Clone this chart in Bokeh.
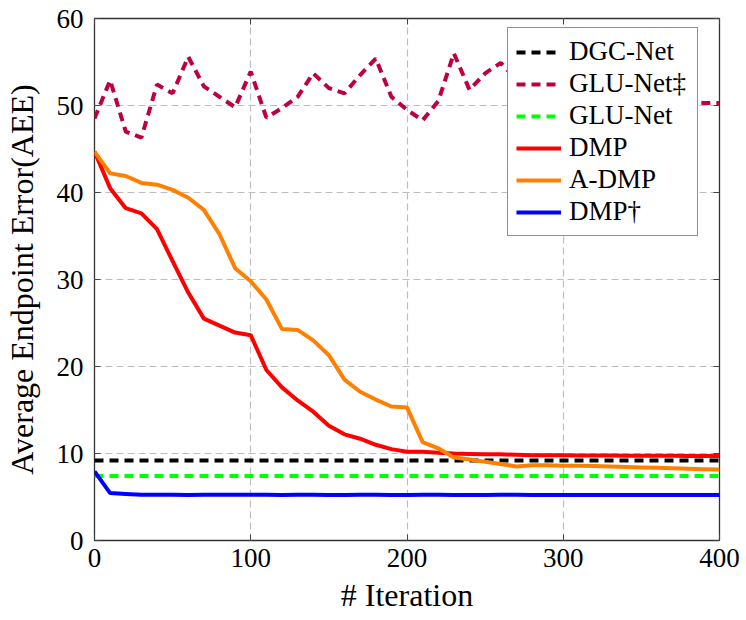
from bokeh.plotting import figure
from bokeh.models import Range1d, LinearAxis, FixedTicker, Legend, LegendItem
from bokeh.embed import file_html
from bokeh.resources import INLINE

iterations = list(range(0, 401, 10))

glu_net_ddagger = [48.5, 52.9, 47.0, 46.3, 52.4, 51.4, 55.6, 52.2, 51.0, 49.8,
                   53.9, 48.6, 49.7, 51.0, 53.7, 52.0, 51.4, 53.5, 55.4, 51.0,
                   49.5, 48.3, 50.5, 56.0, 51.8, 53.7, 54.9, 53.0, 51.5, 52.8,
                   50.9, 53.6, 51.2, 49.8, 52.4, 50.6, 51.9, 50.1, 50.4, 50.3,
                   50.3]

dmp = [44.7, 40.5, 38.2, 37.6, 35.8, 32.1, 28.5, 25.5, 24.7, 23.9,
       23.6, 19.6, 17.6, 16.1, 14.8, 13.2, 12.2, 11.7, 11.0, 10.5,
       10.2, 10.2, 10.1, 10.0, 9.95, 9.9, 9.9, 9.85, 9.8, 9.8,
       9.8, 9.78, 9.77, 9.76, 9.75, 9.75, 9.74, 9.73, 9.72, 9.72,
       9.7]

a_dmp = [44.7, 42.2, 41.9, 41.1, 40.9, 40.3, 39.4, 38.0, 35.2, 31.3,
         29.8, 27.7, 24.3, 24.2, 23.0, 21.3, 18.5, 17.1, 16.2, 15.4,
         15.3, 11.3, 10.6, 9.55, 9.3, 9.05, 8.8, 8.5, 8.65, 8.65,
         8.6, 8.58, 8.55, 8.5, 8.45, 8.4, 8.35, 8.3, 8.25, 8.2,
         8.15]

dmp_dagger = [7.95, 5.45, 5.35, 5.25, 5.26, 5.25, 5.24, 5.25, 5.25, 5.26,
              5.25, 5.25, 5.24, 5.25, 5.25, 5.24, 5.24, 5.25, 5.25, 5.24,
              5.24, 5.25, 5.25, 5.24, 5.24, 5.24, 5.25, 5.25, 5.24, 5.24,
              5.24, 5.23, 5.23, 5.24, 5.24, 5.23, 5.23, 5.23, 5.23, 5.22,
              5.22]

baseline_x = [0, 400]
dgc_net = [9.2, 9.2]
glu_net = [7.4, 7.4]

x_ticks = [0, 100, 200, 300, 400]
y_ticks = [0, 10, 20, 30, 40, 50, 60]

FONT = "Liberation Serif"

p = figure(width=746, height=620, output_backend="svg", toolbar_location=None,
           x_range=Range1d(0, 400), y_range=Range1d(0, 60),
           min_border_left=94, min_border_right=27, min_border_top=18,
           min_border_bottom=80)

p.background_fill_color = "white"
p.border_fill_color = "white"
p.outline_line_color = "#333333"
p.outline_line_width = 1.3

for ax in (p.xaxis[0], p.yaxis[0]):
    ax.major_label_text_font = FONT
    ax.major_label_text_font_size = "27px"
    ax.major_label_text_color = "black"
    ax.axis_label_text_font = FONT
    ax.axis_label_text_font_size = "32px"
    ax.axis_label_text_font_style = "normal"
    ax.axis_label_text_color = "black"
    ax.axis_line_color = None
    ax.major_tick_in = 6
    ax.major_tick_out = 0
    ax.major_tick_line_color = "#444444"
    ax.minor_tick_line_color = None

p.xaxis[0].ticker = FixedTicker(ticks=x_ticks)
p.yaxis[0].ticker = FixedTicker(ticks=y_ticks)
p.xaxis[0].axis_label = "# Iteration"
p.yaxis[0].axis_label = "Average Endpoint Error(AEE)"
p.xaxis[0].major_label_standoff = 8
p.yaxis[0].major_label_standoff = 11
p.xaxis[0].axis_label_standoff = 7
p.yaxis[0].axis_label_standoff = 14

for loc, tk in (("above", x_ticks), ("right", y_ticks)):
    ax = LinearAxis(ticker=FixedTicker(ticks=tk),
                    major_label_overrides={t: "" for t in tk},
                    major_label_text_font_size="1px",
                    major_label_standoff=0, major_tick_in=6, major_tick_out=0,
                    major_tick_line_color="#444444", minor_tick_line_color=None,
                    axis_line_color=None)
    p.add_layout(ax, loc)

p.xgrid.ticker = FixedTicker(ticks=x_ticks)
p.ygrid.ticker = FixedTicker(ticks=y_ticks)
for g in (p.xgrid[0], p.ygrid[0]):
    g.grid_line_color = "#bdbdbd"
    g.grid_line_dash = "7 4"
    g.grid_line_width = 1.2

LW = 4
r_dgc = p.line(baseline_x, dgc_net, line_color="black", line_width=LW, line_dash="9 6")
r_glud = p.line(iterations, glu_net_ddagger, line_color="#BF0040", line_width=LW, line_dash="9 6")
r_glu = p.line(baseline_x, glu_net, line_color="#00FF00", line_width=LW, line_dash="9 6")
r_dmp = p.line(iterations, dmp, line_color="#FF0000", line_width=LW)
r_admp = p.line(iterations, a_dmp, line_color="#FF8000", line_width=LW)
r_dmpd = p.line(iterations, dmp_dagger, line_color="#0000FF", line_width=LW)

legend = Legend(items=[
    LegendItem(label="DGC-Net", renderers=[r_dgc]),
    LegendItem(label="GLU-Net\u2021", renderers=[r_glud]),
    LegendItem(label="GLU-Net", renderers=[r_glu]),
    LegendItem(label="DMP", renderers=[r_dmp]),
    LegendItem(label="A-DMP", renderers=[r_admp]),
    LegendItem(label="DMP\u2020", renderers=[r_dmpd]),
], location=(413, 304))
legend.label_text_font = FONT
legend.label_text_font_size = "27px"
legend.label_text_color = "black"
legend.label_height = 26
legend.glyph_height = 26
legend.glyph_width = 45
legend.label_standoff = 8
legend.label_width = 120
legend.spacing = 1
legend.padding = 8
legend.margin = 0
legend.border_line_color = "#222222"
legend.border_line_width = 1.2
legend.background_fill_color = "white"
legend.background_fill_alpha = 1.0
p.add_layout(legend, "center")

open("out.html", "w").write(file_html(p, INLINE))
